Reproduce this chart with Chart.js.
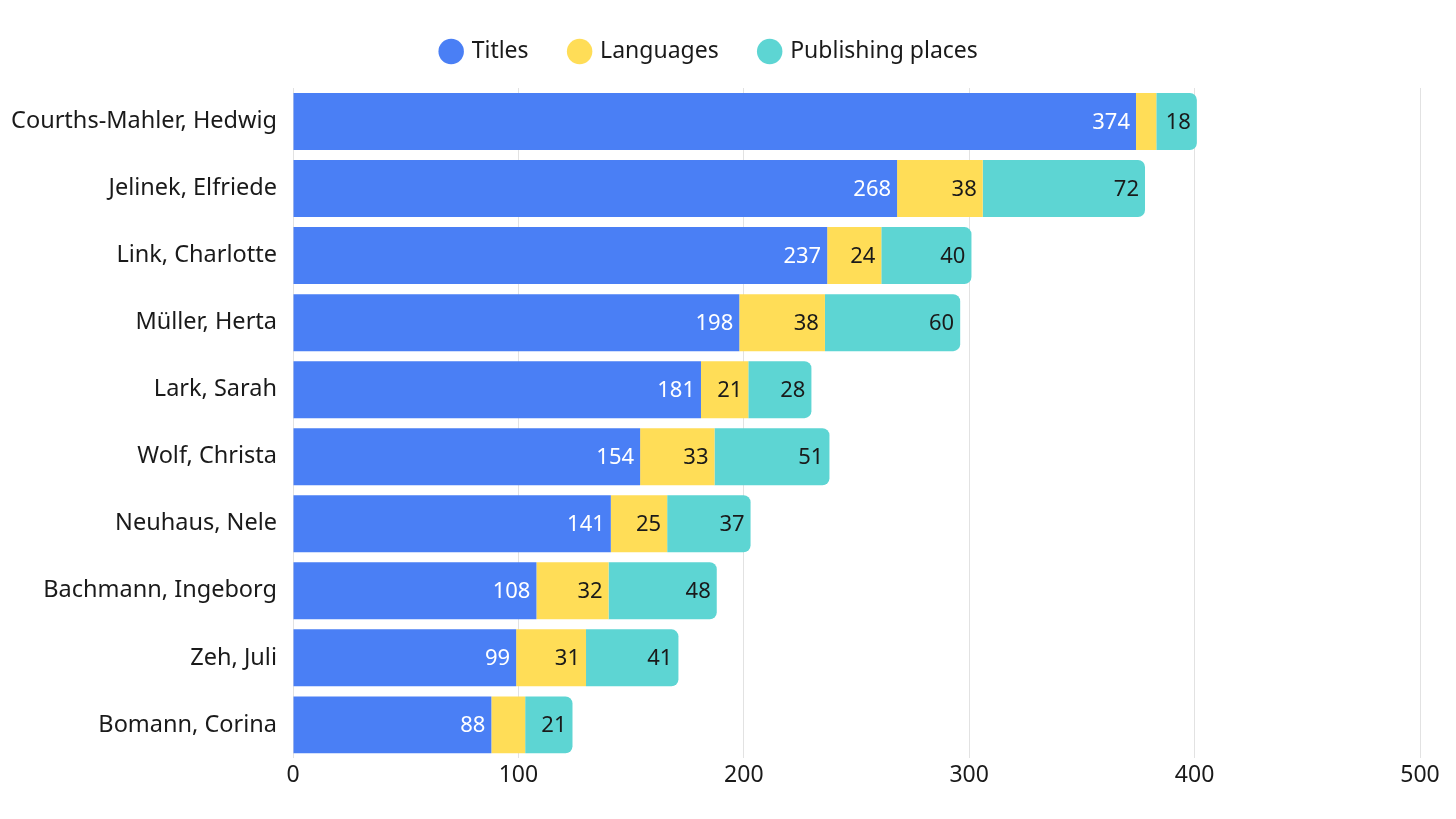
<!DOCTYPE html>
<html>
<head>
<meta charset="utf-8">
<script src="https://cdn.jsdelivr.net/npm/chart.js@4"></script>
<style>
  html, body { margin: 0; padding: 0; background: #fff; }
  #wrap { width: 1456px; height: 819px; position: relative; }
</style>
</head>
<body>
<div id="wrap"><canvas id="authorChart"></canvas></div>
<script>
// ── Data
const AUTHORS = [
  'Courths-Mahler, Hedwig', 'Jelinek, Elfriede', 'Link, Charlotte', 'Müller, Herta',
  'Lark, Sarah', 'Wolf, Christa', 'Neuhaus, Nele', 'Bachmann, Ingeborg',
  'Zeh, Juli', 'Bomann, Corina',
];
const TITLES    = [374, 268, 237, 198, 181, 154, 141, 108, 99, 88];
const LANGUAGES = [9, 38, 24, 38, 21, 33, 25, 32, 31, 15];
const PLACES    = [18, 72, 40, 60, 28, 51, 37, 48, 41, 21];
const X_TICKS   = [0, 100, 200, 300, 400, 500];

// ── Colours
const COLORS = {
  titles:    '#4a7ff5',
  languages: '#ffdd57',
  places:    '#5dd5d3',
  grid:      '#e2e2e2',
  text:      '#1a1a1a',
};
const FONT = 'Noto Sans';

// Draws value at the inside end of each segment (skips tiny ones)
const valueLabels = {
  id: 'valueLabels',
  afterDatasetsDraw(chart) {
    const ctx = chart.ctx;
    ctx.save();
    ctx.font = '22px "' + FONT + '"';
    ctx.textAlign = 'right';
    ctx.textBaseline = 'middle';
    chart.data.datasets.forEach((ds, di) => {
      const meta = chart.getDatasetMeta(di);
      meta.data.forEach((bar, i) => {
        const v = ds.data[i];
        if (v < 16) return;
        ctx.fillStyle = di === 0 ? '#ffffff' : COLORS.text;
        ctx.fillText(String(v), bar.x - 6, bar.y + 1);
      });
    });
    ctx.restore();
  },
};

// Extra gap under the legend (legend has no afterFit option)
const legendGap = {
  id: 'legendGap',
  afterInit(chart) {
    const lg = chart.legend;
    if (!lg) return;
    const fit = lg.fit.bind(lg);
    lg.fit = function () { fit(); this.height += 15; };
  },
};

new Chart(document.getElementById('authorChart'), {
  type: 'bar',
  data: {
    labels: AUTHORS,
    datasets: [
      { label: 'Titles',            data: TITLES,    backgroundColor: COLORS.titles },
      { label: 'Languages',         data: LANGUAGES, backgroundColor: COLORS.languages },
      { label: 'Publishing places', data: PLACES,    backgroundColor: COLORS.places,
        borderRadius: { topRight: 7, bottomRight: 7 }, borderSkipped: false },
    ],
  },
  options: {
    indexAxis: 'y',
    responsive: true,
    maintainAspectRatio: false,
    animation: false,
    layout: { padding: { top: -2, right: 36, bottom: 27, left: 0 } },
    datasets: { bar: { barPercentage: 0.85, categoryPercentage: 1 } },
    plugins: {
      tooltip: { enabled: false },
      legend: {
        position: 'top',
        labels: {
          color: COLORS.text,
          font: { family: FONT, size: 23 },
          usePointStyle: true,
          pointStyle: 'circle',
          boxWidth: 18,
          boxHeight: 18,
          padding: 42,
        },
      },
    },
    scales: {
      x: {
        stacked: true,
        min: 0,
        max: 500,
        afterBuildTicks: s => { s.ticks = X_TICKS.map(v => ({ value: v })); },
        grid: { color: COLORS.grid, drawTicks: false },
        border: { display: false },
        ticks: { color: COLORS.text, font: { family: FONT, size: 23 }, padding: 3 },
      },
      y: {
        stacked: true,
        grid: { display: false },
        border: { display: false },
        afterFit: s => { s.width = 293; },
        ticks: { color: COLORS.text, font: { family: FONT, size: 23.5 }, padding: 8 },
      },
    },
  },
  plugins: [valueLabels, legendGap],
});
</script>
</body>
</html>
